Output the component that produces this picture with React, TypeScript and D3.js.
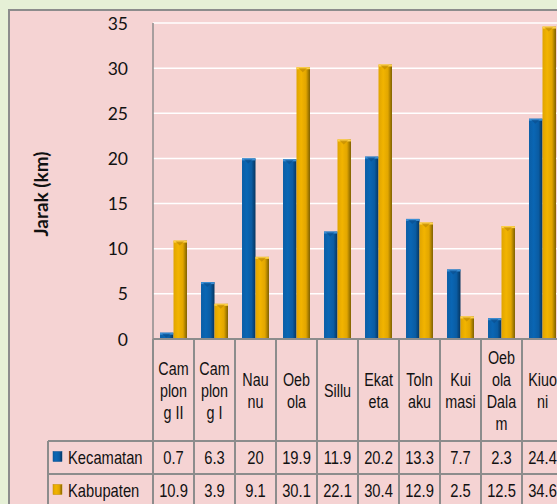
import React from "react";
import * as d3 from "d3";

const width = 557;
const height = 504;

const categories = ["Camplong II", "Camplong I", "Naunu", "Oebola", "Sillu", "Ekateta", "Tolnaku", "Kuimasi", "Oebola Dalam", "Kiuoni"];
// wrapped the way the table cells break them
const categoryLines = [
  ["Cam", "plon", "g II"],
  ["Cam", "plon", "g I"],
  ["Nau", "nu"],
  ["Oeb", "ola"],
  ["Sillu"],
  ["Ekat", "eta"],
  ["Toln", "aku"],
  ["Kui", "masi"],
  ["Oeb", "ola", "Dala", "m"],
  ["Kiuo", "ni"]
];
const seriesNames = ["Kecamatan", "Kabupaten"];
const kecamatan = [0.7, 6.3, 20, 19.9, 11.9, 20.2, 13.3, 7.7, 2.3, 24.4];
const kabupaten = [10.9, 3.9, 9.1, 30.1, 22.1, 30.4, 12.9, 2.5, 12.5, 34.6];
const yTicks = [0, 5, 10, 15, 20, 25, 30, 35];

const plotLeft = 153;
const plotTop = 23;
const plotBottom = 339;
const catWidth = 41;
const tableLeft = 48;
const rowTop = 441;
const rowH = 33;

const grid = "#8c8c8c";
const narrow = "'Liberation Sans', Arial, sans-serif";

function NarrowText({ x, y, children, size = 17.5 }) {
  return (
    <text
      transform={`translate(${x},${y}) scale(0.82,1)`}
      textAnchor="middle"
      dominantBaseline="central"
      fontFamily={narrow}
      fontSize={size}
      fill="#111"
    >
      {children}
    </text>
  );
}

export default function App() {
  const series = [kecamatan, kabupaten];
  const x0 = d3
    .scaleBand()
    .domain(categories)
    .range([plotLeft, plotLeft + catWidth * categories.length])
    .padding(0);
  const x1 = d3.scaleBand().domain(seriesNames).range([0, x0.bandwidth()]).paddingInner(0).paddingOuter(0.52);
  const y = d3.scaleLinear().domain([0, 35]).range([plotBottom, plotTop]);
  const fills = ["url(#gBlue)", "url(#gGold)"];
  const tops = ["#3b8fd6", "#ffd24a"];
  const tri = ["#0a4f8f", "#c08a00"];

  const colEdges = d3.range(categories.length + 1).map((i) => plotLeft + i * catWidth);

  return (
    <svg width={width} height={height} style={{ position: "absolute", left: 0, top: 0 }}>
      <defs>
        <linearGradient id="gBlue" x1="0" x2="1" y1="0" y2="0">
          <stop offset="0" stopColor="#0b5ea6" />
          <stop offset="0.35" stopColor="#0a66b4" />
          <stop offset="0.7" stopColor="#0a5ca3" />
          <stop offset="1" stopColor="#06355f" />
        </linearGradient>
        <linearGradient id="gGold" x1="0" x2="1" y1="0" y2="0">
          <stop offset="0" stopColor="#e0a400" />
          <stop offset="0.35" stopColor="#f2b400" />
          <stop offset="0.7" stopColor="#e2a600" />
          <stop offset="1" stopColor="#7e6000" />
        </linearGradient>
      </defs>

      <rect x={0} y={0} width={width} height={height} fill="#e6f0d6" />
      <rect x={9} y={10} width={width} height={height} fill="#f5d3d3" stroke={grid} strokeWidth={2} />

      {/* gridlines */}
      {yTicks.slice(1).map((t) => (
        <line key={t} x1={plotLeft} x2={width} y1={y(t)} y2={y(t)} stroke="#ffffff" strokeWidth={1.5} />
      ))}
      <line x1={plotLeft} x2={plotLeft} y1={plotTop} y2={plotBottom} stroke={grid} strokeWidth={1.5} />

      {yTicks.map((t) => (
        <text
          key={t}
          x={128}
          y={y(t)}
          textAnchor="end"
          dominantBaseline="central"
          fontFamily="Lato, 'Open Sans', sans-serif"
          fontSize={17.5}
          fill="#111"
        >
          {t}
        </text>
      ))}
      <text
        transform={`translate(40,194) rotate(-90)`}
        textAnchor="middle"
        dominantBaseline="central"
        fontFamily="Lato, 'Open Sans', sans-serif"
        fontWeight="bold"
        fontSize={19}
        fill="#111"
      >
        Jarak (km)
      </text>

      {/* bars */}
      {categories.map((c, i) => (
        <g key={c} transform={`translate(${x0(c)},0)`}>
          {seriesNames.map((s, j) => {
            const v = series[j][i];
            const bx = x1(s);
            const bw = x1.bandwidth();
            const by = y(v);
            const bh = plotBottom - by;
            const cap = Math.min(4, bh);
            return (
              <g key={s}>
                <rect x={bx} y={by} width={bw} height={bh} fill={fills[j]} />
                <rect x={bx} y={by} width={bw} height={cap * 0.5} fill={tops[j]} />
                {bh > 4 && (
                  <path
                    d={`M${bx + 2},${by + 1} L${bx + bw - 3},${by + 1} L${bx + bw / 2 - 0.5},${by + cap + 1} Z`}
                    fill={tri[j]}
                    opacity={0.7}
                  />
                )}
              </g>
            );
          })}
        </g>
      ))}

      {/* data table */}
      <g stroke={grid} strokeWidth={2} fill="none">
        <line x1={plotLeft} x2={width} y1={plotBottom} y2={plotBottom} />
        <line x1={tableLeft} x2={width} y1={rowTop} y2={rowTop} />
        <line x1={tableLeft} x2={width} y1={rowTop + rowH} y2={rowTop + rowH} />
        <line x1={tableLeft} x2={tableLeft} y1={rowTop} y2={height} />
        {colEdges.map((cx) => (
          <line key={cx} x1={cx} x2={cx} y1={plotBottom} y2={height} />
        ))}
      </g>

      {categories.map((c, i) => {
        const lines = categoryLines[i];
        const cx = x0(c) + x0.bandwidth() / 2;
        const mid = (plotBottom + rowTop) / 2 + 1;
        const lh = 21.8;
        return (
          <g key={c}>
            {lines.map((l, k) => (
              <NarrowText key={k} x={cx} y={mid + (k - (lines.length - 1) / 2) * lh}>
                {l}
              </NarrowText>
            ))}
            {series.map((vals, j) => (
              <NarrowText key={j} x={cx} y={rowTop + rowH * j + rowH / 2} size={18}>
                {String(vals[i])}
              </NarrowText>
            ))}
          </g>
        );
      })}

      {seriesNames.map((s, j) => {
        const cy = rowTop + rowH * j + rowH / 2;
        return (
          <g key={s}>
            <rect x={53} y={cy - 6} width={9} height={10} fill={fills[j]} stroke={tri[j]} strokeWidth={0.5} />
            <text
              transform={`translate(68,${cy}) scale(0.82,1)`}
              dominantBaseline="central"
              fontFamily={narrow}
              fontSize={18}
              fill="#111"
            >
              {s}
            </text>
          </g>
        );
      })}
    </svg>
  );
}
